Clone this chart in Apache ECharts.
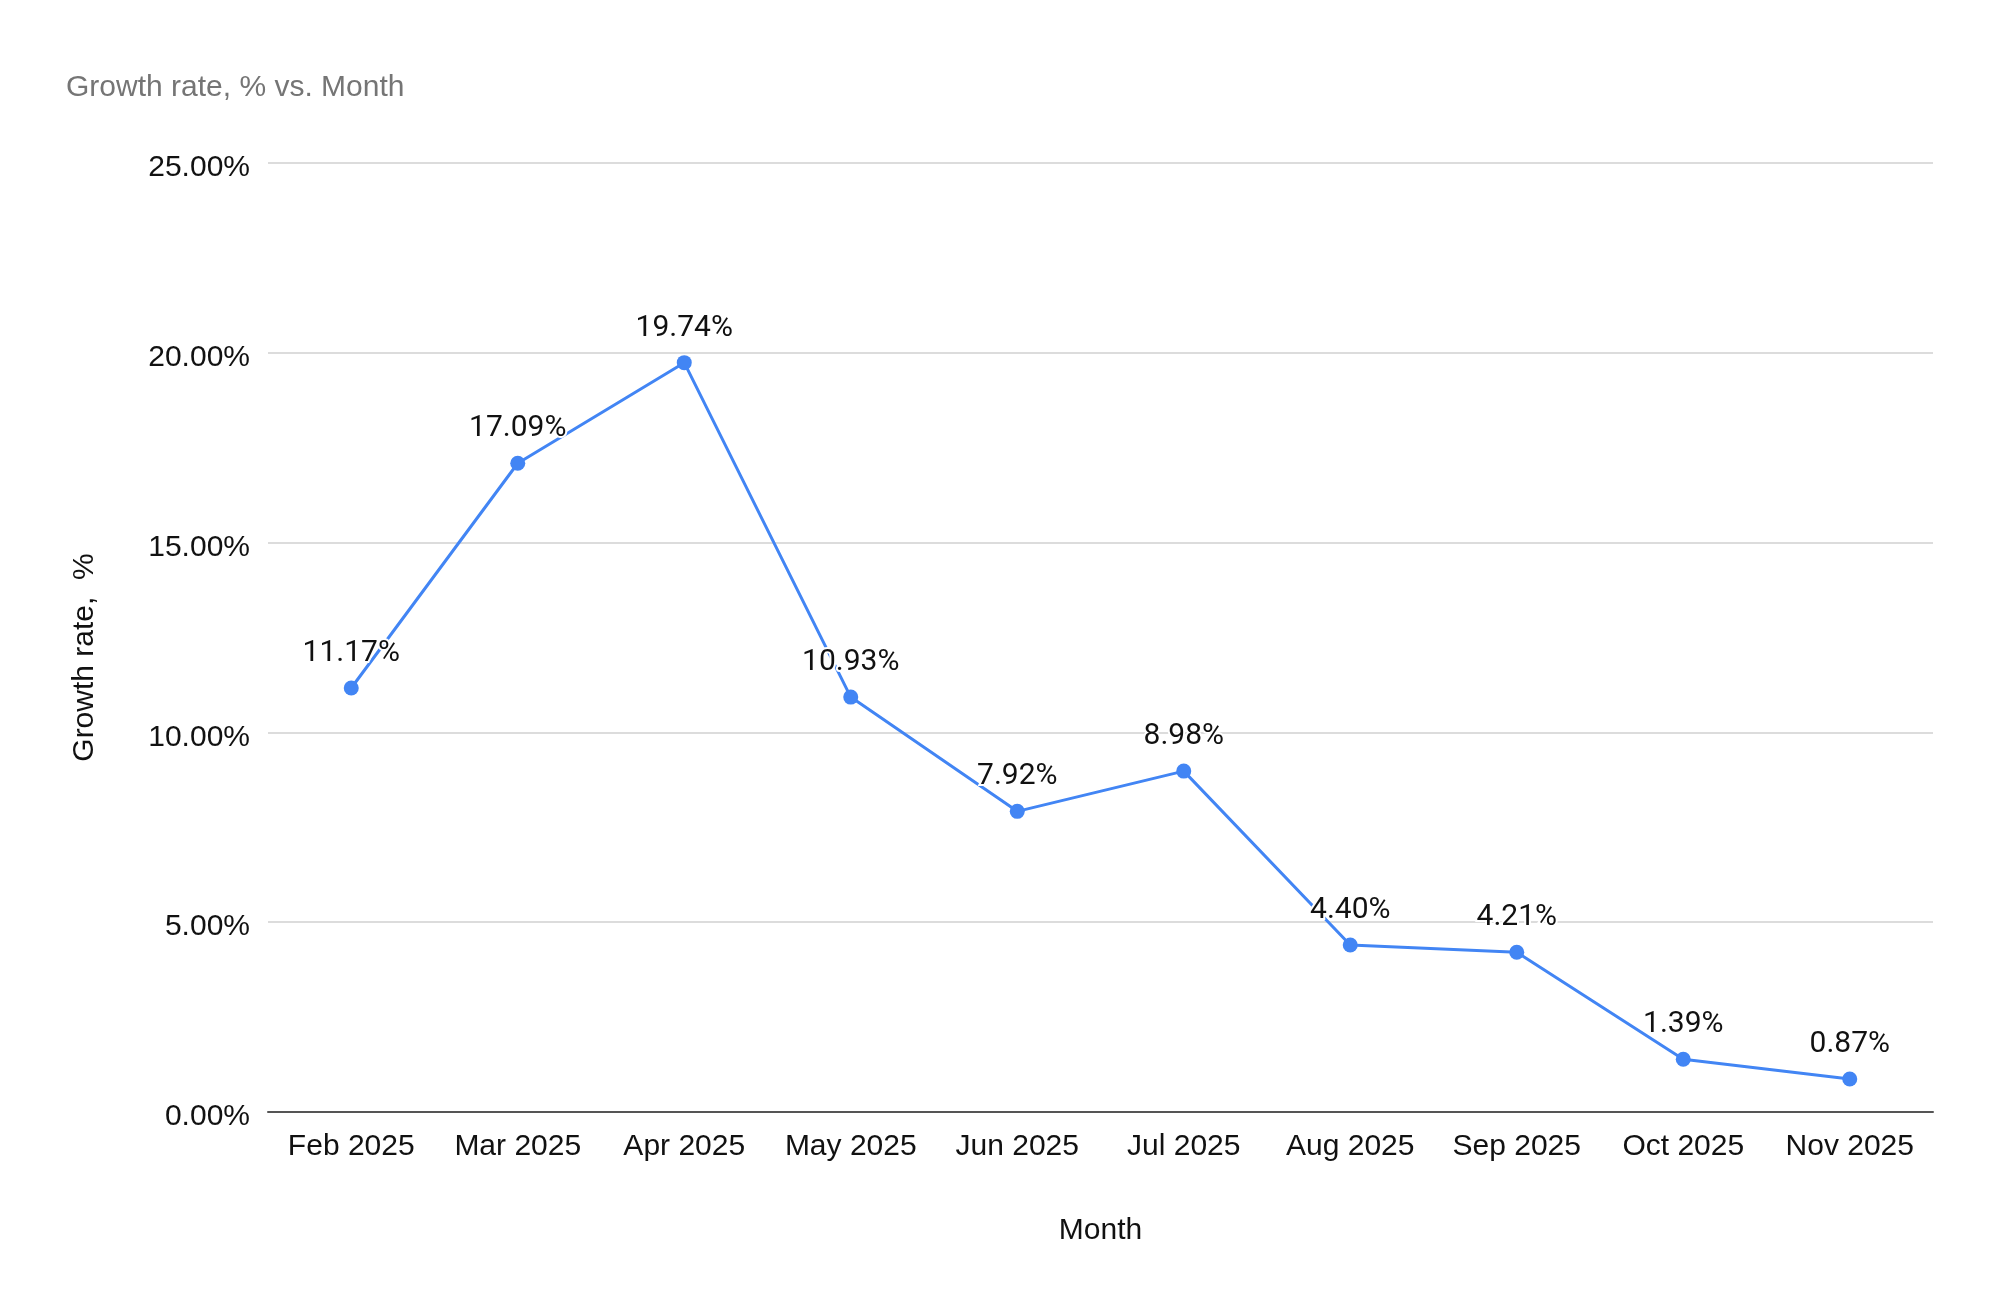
<!DOCTYPE html>
<html>
<head>
<meta charset="utf-8">
<script src="https://cdn.jsdelivr.net/npm/echarts@6/dist/echarts.min.js"></script>
<style>
html,body{margin:0;padding:0;background:#fff;}
#chart{width:1999px;height:1313px;}
</style>
</head>
<body>
<div id="chart"></div>
<script>
const months = ['Feb 2025','Mar 2025','Apr 2025','May 2025','Jun 2025','Jul 2025','Aug 2025','Sep 2025','Oct 2025','Nov 2025'];
const growthRate = [11.17, 17.09, 19.74, 10.93, 7.92, 8.98, 4.40, 4.21, 1.39, 0.87];
const yMin = 0, yMax = 25, yStep = 5;

const chart = echarts.init(document.getElementById('chart'));
chart.setOption({
  animation: false,
  backgroundColor: '#fff',
  title: {
    text: 'Growth rate, % vs. Month',
    left: 61, top: 68,
    textStyle: {fontFamily: 'Liberation Sans', fontSize: 30, fontWeight: 'normal', color: '#757575'}
  },
  grid: {left: 268, right: 66, top: 163, bottom: 201},
  xAxis: {
    type: 'category',
    data: months,
    name: 'Month',
    nameLocation: 'middle',
    nameGap: 104,
    nameTextStyle: {fontFamily: 'Liberation Sans', fontSize: 30, color: '#111'},
    axisLine: {lineStyle: {color: '#555', width: 2}},
    axisTick: {show: false},
    axisLabel: {fontFamily: 'Liberation Sans', fontSize: 30, color: '#111', margin: 20, interval: 0}
  },
  yAxis: {
    type: 'value',
    min: yMin, max: yMax, interval: yStep,
    name: 'Growth rate,  %',
    nameLocation: 'middle',
    nameGap: 168,
    nameTextStyle: {fontFamily: 'Liberation Sans', fontSize: 30, color: '#111', padding: [0, 40, 0, 0]},
    axisLine: {show: false},
    axisTick: {show: false},
    splitLine: {lineStyle: {color: '#d0d0d0', width: 1.5}},
    axisLabel: {
      margin: 18,
      formatter: v => '{v|' + v.toFixed(2) + '%}',
      rich: {
        v: {fontFamily: 'Liberation Sans', fontSize: 30, color: '#111', padding: [10, 0, 0, 0]}
      }
    }
  },
  series: [{
    type: 'line',
    data: growthRate,
    color: '#4285F4',
    lineStyle: {width: 3, color: '#4285F4'},
    symbol: 'circle',
    symbolSize: 15,
    itemStyle: {color: '#4285F4'},
    label: {
      show: true,
      position: 'top',
      distance: 12,
      fontFamily: 'Roboto',
      fontSize: 30,
      color: '#111',
      textBorderColor: '#fff',
      textBorderWidth: 4,
      formatter: p => p.value.toFixed(2) + '%'
    }
  }]
});
</script>
</body>
</html>
